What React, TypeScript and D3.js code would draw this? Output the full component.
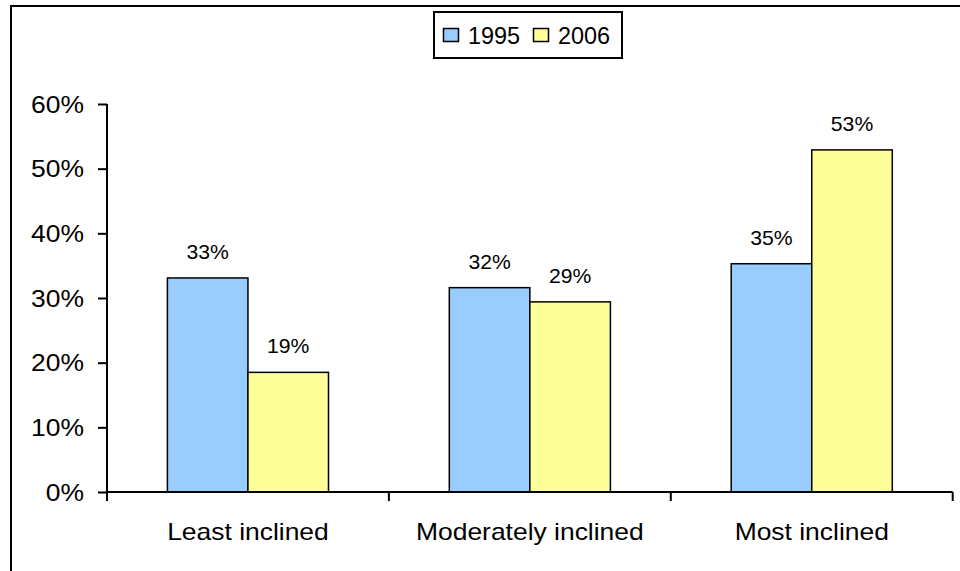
import React, { useRef, useEffect } from 'react';
import * as d3 from 'd3';

const categories = ['Least inclined', 'Moderately inclined', 'Most inclined'];
const seriesNames = ['1995', '2006'];
const values1995 = [0.331, 0.316, 0.353];
const values2006 = [0.185, 0.294, 0.529];
const yTicks = [0, 0.1, 0.2, 0.3, 0.4, 0.5, 0.6];

const colors = ['#99CCFF', '#FFFF99'];

const App: React.FC = () => {
    const svgRef = useRef<SVGSVGElement>(null);
    const width = 960;
    const height = 571;

    useEffect(() => {
        if (!svgRef.current) return;
        const svg = d3.select(svgRef.current);
        svg.selectAll('*').remove();

        const font = 'Arial, "Liberation Sans", sans-serif';

        // text helper: stretched horizontally around its anchor point
        const label = (parent: any, x: number, y: number, txt: string, size: number, anchor: string, sx = 1.1) =>
            parent.append('g')
                .attr('transform', `translate(${x},${y}) scale(${sx},1)`)
                .append('text')
                .attr('text-anchor', anchor)
                .attr('font-family', font).attr('font-size', size)
                .attr('fill', '#000')
                .text(txt);

        svg.append('rect')
            .attr('width', width).attr('height', height).attr('fill', '#fff');

        // outer chart border (right/bottom fall off the picture)
        svg.append('rect')
            .attr('x', 11).attr('y', 6)
            .attr('width', 1000).attr('height', 700)
            .attr('fill', 'none').attr('stroke', '#000').attr('stroke-width', 2);

        const left = 107, right = 952.7, top = 104, bottom = 492;

        const x0 = d3.scaleBand<string>()
            .domain(categories)
            .range([left, right])
            .paddingInner(0).paddingOuter(0);

        // Excel gap width 150%: group = 2 bars, gap = 1.5 bar
        const barW = x0.bandwidth() / 3.5;

        const y = d3.scaleLinear().domain([0, 0.6]).range([bottom, top]);
        const pct = d3.format('.0%');

        const rows = categories.map((c, i) => ({ c, vals: [values1995[i], values2006[i]] }));

        const g = svg.append('g');

        rows.forEach(r => {
            const start = x0(r.c)! + barW * 0.75;
            r.vals.forEach((v, s) => {
                const bx = start + s * barW;
                g.append('rect')
                    .attr('x', bx).attr('y', y(v))
                    .attr('width', barW).attr('height', bottom - y(v))
                    .attr('fill', colors[s])
                    .attr('stroke', '#000').attr('stroke-width', 1.5);
                label(g, bx + barW / 2, y(v) - 19, pct(v), 20, 'middle', 1.06);
            });
        });

        // Y axis
        const yAxis = svg.append('g')
            .attr('transform', `translate(${left},0)`)
            .call(d3.axisLeft(y).tickValues(yTicks).tickFormat(() => '').tickSize(9));
        yAxis.select('.domain').attr('stroke', '#000').attr('stroke-width', 2).attr('d', `M0,${top}V${bottom}`);
        yAxis.selectAll('line').attr('stroke', '#000').attr('stroke-width', 2);
        yTicks.forEach(t => label(svg, 84, y(t) + 8.5, pct(t), 23, 'end', 1.15));

        // X axis with ticks at band edges
        const xAxis = svg.append('g').attr('transform', `translate(0,${bottom})`);
        xAxis.append('line')
            .attr('x1', left).attr('x2', right)
            .attr('stroke', '#000').attr('stroke-width', 2);
        const edges = [...categories.map(c => x0(c)!), right];
        xAxis.selectAll('.tk').data(edges).enter().append('line')
            .attr('x1', d => d).attr('x2', d => d)
            .attr('y1', 0).attr('y2', 9)
            .attr('stroke', '#000').attr('stroke-width', 2);
        categories.forEach(c => label(svg, x0(c)! + x0.bandwidth() / 2, 539.5, c, 23, 'middle', 1.15));

        // Legend
        const lg = svg.append('g');
        lg.append('rect')
            .attr('x', 434).attr('y', 12)
            .attr('width', 188).attr('height', 46)
            .attr('fill', '#fff').attr('stroke', '#000').attr('stroke-width', 2);
        const legendX = [443.5, 533.5];
        seriesNames.forEach((n, i) => {
            lg.append('rect')
                .attr('x', legendX[i]).attr('y', 28.5)
                .attr('width', 15).attr('height', 13)
                .attr('fill', colors[i]).attr('stroke', '#000').attr('stroke-width', 1.5);
            label(lg, legendX[i] + 24.5, 43.5, n, 23, 'start', 1.02);
        });
    }, []);

    return (
        <svg
            ref={svgRef}
            width={width}
            height={height}
            style={{ position: 'absolute', left: 0, top: 0 }}
        />
    );
};

export default App;
